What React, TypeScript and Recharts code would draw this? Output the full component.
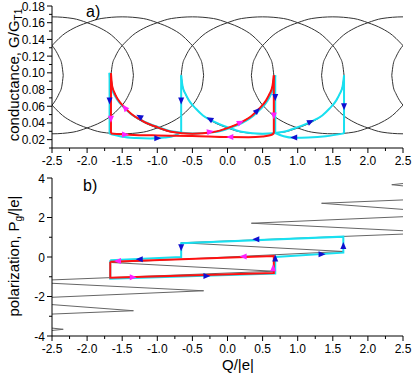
import React from 'react';
import { ComposedChart, Line, Scatter, XAxis, YAxis } from 'recharts';

const FONT = "'Liberation Sans', Arial, sans-serif";

// ---------- tick labels ----------
const qTicks = [-2.5, -2.25, -2, -1.75, -1.5, -1.25, -1, -0.75, -0.5, -0.25, 0, 0.25, 0.5, 0.75, 1, 1.25, 1.5, 1.75, 2, 2.25, 2.5];
const gTicks = [0.01, 0.02, 0.03, 0.04, 0.05, 0.06, 0.07, 0.08, 0.09, 0.1, 0.11, 0.12, 0.13, 0.14, 0.15, 0.16, 0.17, 0.18];
const pTicks = [-4, -3, -2, -1, 0, 1, 2, 3, 4];

// ---------- panel a: black conductance ellipses ----------
const ellipseCenters = [-3.5, -2.5, -1.5, -0.5, 0.5, 1.5, 2.5, 3.5];
const ellipseDq = [-1.16, -1.14, -1.1, -1.05, -0.95, -0.85, -0.7, -0.5, -0.3, 0, 0.3, 0.5, 0.7, 0.85, 0.95, 1.05, 1.1, 1.14, 1.16];
const ellipseUpperG = [0.097, 0.110, 0.119, 0.127, 0.137, 0.145, 0.153, 0.160, 0.165, 0.167, 0.165, 0.160, 0.153, 0.145, 0.137, 0.127, 0.119, 0.110, 0.097];
const ellipseLowerG = [0.097, 0.084, 0.075, 0.067, 0.057, 0.049, 0.041, 0.034, 0.029, 0.027, 0.029, 0.034, 0.041, 0.049, 0.057, 0.067, 0.075, 0.084, 0.097];

// ---------- panel a: red path ----------
const redArcG = [
  { x: -1.66, y: 0.0996 }, { x: -1.645, y: 0.085 }, { x: -1.61, y: 0.076 }, { x: -1.56, y: 0.068 },
  { x: -1.46, y: 0.058 }, { x: -1.36, y: 0.05 }, { x: -1.2, y: 0.042 }, { x: -1.0, y: 0.035 },
  { x: -0.8, y: 0.0295 }, { x: -0.5, y: 0.0272 }, { x: -0.2, y: 0.0292 }, { x: 0, y: 0.0338 },
  { x: 0.2, y: 0.041 }, { x: 0.35, y: 0.049 }, { x: 0.45, y: 0.057 }, { x: 0.55, y: 0.067 },
  { x: 0.6, y: 0.075 }, { x: 0.64, y: 0.084 }, { x: 0.66, y: 0.097 },
];
const redFlatG = [
  { x: -1.66, y: 0.0275 }, { x: -1.4, y: 0.026 }, { x: -1.0, y: 0.025 }, { x: -0.5, y: 0.0245 },
  { x: 0, y: 0.0232 }, { x: 0.3, y: 0.023 }, { x: 0.5, y: 0.0238 }, { x: 0.62, y: 0.0255 }, { x: 0.66, y: 0.0275 },
];
const redJumpsG = [
  { x: -1.66, y: 0.0275 }, { x: -1.66, y: 0.0996 }, { x: -0.5, y: null },
  { x: 0.66, y: 0.0275 }, { x: 0.66, y: 0.097 },
];

// ---------- panel a: cyan path ----------
const cyanArc1G = [
  { x: -1.68, y: 0.100 }, { x: -1.665, y: 0.086 }, { x: -1.63, y: 0.077 }, { x: -1.58, y: 0.069 },
  { x: -1.48, y: 0.059 }, { x: -1.38, y: 0.051 }, { x: -1.22, y: 0.043 }, { x: -1.02, y: 0.036 },
  { x: -0.8, y: 0.030 }, { x: -0.5, y: 0.0275 }, { x: -0.18, y: 0.029 }, { x: 0.02, y: 0.0335 },
  { x: 0.22, y: 0.0405 }, { x: 0.37, y: 0.0485 }, { x: 0.47, y: 0.0565 }, { x: 0.57, y: 0.0665 },
  { x: 0.62, y: 0.0745 }, { x: 0.66, y: 0.084 }, { x: 0.68, y: 0.097 },
];
const cyanArc2G = [
  { x: -0.66, y: 0.097 }, { x: -0.64, y: 0.084 }, { x: -0.6, y: 0.075 }, { x: -0.55, y: 0.067 },
  { x: -0.45, y: 0.057 }, { x: -0.35, y: 0.049 }, { x: -0.2, y: 0.042 }, { x: 0, y: 0.035 },
  { x: 0.2, y: 0.0295 }, { x: 0.5, y: 0.027 }, { x: 0.8, y: 0.0295 }, { x: 1.0, y: 0.035 },
  { x: 1.2, y: 0.042 }, { x: 1.35, y: 0.049 }, { x: 1.45, y: 0.057 }, { x: 1.55, y: 0.067 },
  { x: 1.6, y: 0.075 }, { x: 1.64, y: 0.084 }, { x: 1.66, y: 0.097 },
];
const cyanFlat1G = [
  { x: -1.68, y: 0.027 }, { x: -1.5, y: 0.0235 }, { x: -1.3, y: 0.022 }, { x: -1.1, y: 0.0215 },
  { x: -0.9, y: 0.0225 }, { x: -0.75, y: 0.025 }, { x: -0.66, y: 0.029 },
];
const cyanFlat2G = [
  { x: 0.68, y: 0.028 }, { x: 0.8, y: 0.024 }, { x: 0.95, y: 0.0222 }, { x: 1.15, y: 0.0225 },
  { x: 1.4, y: 0.024 }, { x: 1.66, y: 0.0275 },
];
const cyanJumpsG = [
  { x: -1.68, y: 0.027 }, { x: -1.68, y: 0.100 }, { x: -1.2, y: null },
  { x: -0.66, y: 0.029 }, { x: -0.66, y: 0.097 }, { x: 0, y: null },
  { x: 0.68, y: 0.028 }, { x: 0.68, y: 0.097 }, { x: 1.2, y: null },
  { x: 1.66, y: 0.0275 }, { x: 1.66, y: 0.097 },
];

// arrow heads: a = screen direction in degrees (0 right, 90 down)
const blueArrowsG = [
  { x: -1.68, y: 0.067, a: 90 }, { x: -1.25, y: 0.0475, a: -150 }, { x: -1.0, y: 0.0218, a: 0 },
  { x: -0.66, y: 0.067, a: 90 }, { x: -0.25, y: 0.0445, a: -150 }, { x: 0.42, y: 0.0545, a: -45 },
  { x: 0.68, y: 0.071, a: 90 }, { x: 0.95, y: 0.0225, a: 180 }, { x: 1.18, y: 0.0415, a: -25 },
  { x: 1.66, y: 0.06, a: 90 },
];
const magentaArrowsG = [
  { x: -1.66, y: 0.045, a: 90 }, { x: -1.46, y: 0.058, a: -130 }, { x: -1.46, y: 0.0262, a: 0 },
  { x: -0.25, y: 0.0295, a: -10 }, { x: 0.18, y: 0.0405, a: -25 }, { x: 0.04, y: 0.0232, a: 180 },
  { x: 0.66, y: 0.049, a: 90 },
];

// ---------- panel b: polarization ----------
// gray equilibrium curve; null entries break the line where it leaves the plot
const grayP = [
  { x: 2.5, y: 3.72 }, { x: 2.34, y: 3.66 }, { x: 2.5, y: 3.6 }, { x: 2.5, y: null },
  { x: 2.5, y: 2.89 }, { x: 1.34, y: 2.72 }, { x: 2.5, y: 2.41 }, { x: 2.5, y: null },
  { x: 2.5, y: 2.04 }, { x: 0.34, y: 1.71 }, { x: 2.5, y: 1.33 }, { x: 2.5, y: null },
  { x: 2.5, y: 1.16 }, { x: -0.66, y: 0.72 }, { x: 1.65, y: 0.28 }, { x: -1.65, y: -0.28 },
  { x: 0.66, y: -0.72 }, { x: -2.5, y: -1.16 }, { x: -2.5, y: null },
  { x: -2.5, y: -1.33 }, { x: -0.34, y: -1.71 }, { x: -2.5, y: -2.04 }, { x: -2.5, y: null },
  { x: -2.5, y: -2.41 }, { x: -1.34, y: -2.72 }, { x: -2.5, y: -2.89 }, { x: -2.5, y: null },
  { x: -2.5, y: -3.6 }, { x: -2.34, y: -3.66 }, { x: -2.5, y: -3.72 },
];
const cyanP = [
  { x: -1.67, y: -0.17 }, { x: -1.67, y: -1.1 }, { x: 0.68, y: -0.84 }, { x: 0.68, y: 0.0 },
  { x: 1.65, y: 0.22 }, { x: 1.65, y: 1.03 }, { x: -0.66, y: 0.7 }, { x: -0.66, y: 0.0 },
  { x: -1.67, y: -0.17 },
];
const redP = [
  { x: -1.67, y: -0.24 }, { x: -1.67, y: -1.05 }, { x: 0.66, y: -0.81 }, { x: 0.66, y: 0.05 },
  { x: -1.67, y: -0.24 },
];
const blueArrowsP = [
  { x: -0.66, y: 0.49, a: 90 }, { x: -1.25, y: -0.12, a: 180 }, { x: -0.3, y: -0.96, a: 0 },
  { x: 0.41, y: 0.9, a: 180 }, { x: 0.68, y: -0.07, a: -90 }, { x: 1.34, y: 0.14, a: 0 },
  { x: 1.65, y: 0.56, a: -90 },
];
const magentaArrowsP = [
  { x: -1.56, y: -0.2, a: 180 }, { x: -1.35, y: -1.03, a: 0 }, { x: 0.23, y: 0.02, a: 180 },
  { x: 0.65, y: -0.57, a: -90 },
];

function buildEllipseHalves(g: number[]) {
  const out: { x: number; y: number | null }[] = [];
  ellipseCenters.forEach((c) => {
    ellipseDq.forEach((d, i) => out.push({ x: c + d, y: g[i] }));
    out.push({ x: c + 1.2, y: null });
  });
  return out;
}
const ellipseUpper = buildEllipseHalves(ellipseUpperG);
const ellipseLower = buildEllipseHalves(ellipseLowerG);

const XTick = (props: any) => {
  const { x, y, payload } = props;
  const v = payload.value as number;
  const major = Math.abs(v * 2 - Math.round(v * 2)) < 1e-6;
  return (
    <g>
      <line x1={x} x2={x} y1={y} y2={y + (major ? 5 : 3)} stroke="#000" strokeWidth={1} />
      {major && (
        <text x={x} y={y + 17} textAnchor="middle" fontSize={12} fontFamily={FONT} fill="#000">
          {v.toFixed(1)}
        </text>
      )}
    </g>
  );
};

const makeYTick = (isMajor: (v: number) => boolean, fmt: (v: number) => string) => (props: any) => {
  const { x, y, payload } = props;
  const v = payload.value as number;
  const major = isMajor(v);
  return (
    <g>
      <line x1={x - (major ? 5 : 3)} x2={x} y1={y} y2={y} stroke="#000" strokeWidth={1} />
      {major && (
        <text x={x - 7} y={y + 4.5} textAnchor="end" fontSize={12} fontFamily={FONT} fill="#000">
          {fmt(v)}
        </text>
      )}
    </g>
  );
};
const GTick = makeYTick((v) => Math.round(v * 100) % 2 === 0, (v) => v.toFixed(2));
const PTick = makeYTick((v) => Math.round(v) % 2 === 0, (v) => String(v));

const arrowShape = (color: string) => (props: any) => {
  const { cx, cy, payload } = props;
  if (cx == null || cy == null) return <g />;
  return (
    <polygon
      points="4,0 -3,-3 -3,3"
      fill={color}
      transform={`translate(${cx},${cy}) rotate(${payload.a})`}
    />
  );
};

const RED = '#ff1010';
const CYAN = '#18e0f0';
const BLUE = '#1010d0';
const MAGENTA = '#ff20ff';

export default function App() {
  return (
    <div style={{ position: 'absolute', left: 0, top: 0, width: 415, height: 374, background: '#fff' }}>
      <div style={{ position: 'absolute', left: 0, top: 0 }}>
        <ComposedChart width={415} height={170} margin={{ top: 6, right: 12, bottom: 0, left: 0 }}>
          <XAxis
            dataKey="x"
            type="number"
            domain={[-2.5, 2.5]}
            allowDataOverflow
            ticks={qTicks}
            interval={0}
            tick={XTick}
            tickLine={false}
            tickSize={0}
            tickMargin={0}
            height={22}
            axisLine={{ stroke: '#000', strokeWidth: 1 }}
          />
          <YAxis
            dataKey="y"
            type="number"
            domain={[0.01, 0.18]}
            allowDataOverflow
            ticks={gTicks}
            interval={0}
            tick={GTick}
            tickLine={false}
            tickSize={0}
            tickMargin={0}
            width={52}
            axisLine={{ stroke: '#000', strokeWidth: 1 }}
          />
          <Line data={ellipseUpper} dataKey="y" type="monotone" stroke="#333" strokeWidth={1} dot={false} activeDot={false} isAnimationActive={false} />
          <Line data={ellipseLower} dataKey="y" type="monotone" stroke="#333" strokeWidth={1} dot={false} activeDot={false} isAnimationActive={false} />
          <Line data={cyanArc1G} dataKey="y" type="monotone" stroke={CYAN} strokeWidth={2} dot={false} activeDot={false} isAnimationActive={false} />
          <Line data={cyanArc2G} dataKey="y" type="monotone" stroke={CYAN} strokeWidth={2} dot={false} activeDot={false} isAnimationActive={false} />
          <Line data={cyanFlat1G} dataKey="y" type="monotone" stroke={CYAN} strokeWidth={2} dot={false} activeDot={false} isAnimationActive={false} />
          <Line data={cyanFlat2G} dataKey="y" type="monotone" stroke={CYAN} strokeWidth={2} dot={false} activeDot={false} isAnimationActive={false} />
          <Line data={cyanJumpsG} dataKey="y" type="linear" stroke={CYAN} strokeWidth={2} dot={false} activeDot={false} isAnimationActive={false} />
          <Line data={redArcG} dataKey="y" type="monotone" stroke={RED} strokeWidth={2} dot={false} activeDot={false} isAnimationActive={false} />
          <Line data={redFlatG} dataKey="y" type="monotone" stroke={RED} strokeWidth={2} dot={false} activeDot={false} isAnimationActive={false} />
          <Line data={redJumpsG} dataKey="y" type="linear" stroke={RED} strokeWidth={2} dot={false} activeDot={false} isAnimationActive={false} />
          <Scatter data={blueArrowsG} dataKey="y" shape={arrowShape(BLUE)} isAnimationActive={false} />
          <Scatter data={magentaArrowsG} dataKey="y" shape={arrowShape(MAGENTA)} isAnimationActive={false} />
        </ComposedChart>
      </div>
      <div style={{ position: 'absolute', left: 0, top: 170 }}>
        <ComposedChart width={415} height={204} margin={{ top: 8, right: 12, bottom: 0, left: 0 }}>
          <XAxis
            dataKey="x"
            type="number"
            domain={[-2.5, 2.5]}
            allowDataOverflow
            ticks={qTicks}
            interval={0}
            tick={XTick}
            tickLine={false}
            tickSize={0}
            tickMargin={0}
            height={38}
            axisLine={{ stroke: '#000', strokeWidth: 1 }}
          />
          <YAxis
            dataKey="y"
            type="number"
            domain={[-4, 4]}
            allowDataOverflow
            ticks={pTicks}
            interval={0}
            tick={PTick}
            tickLine={false}
            tickSize={0}
            tickMargin={0}
            width={52}
            axisLine={{ stroke: '#000', strokeWidth: 1 }}
          />
          <Line data={grayP} dataKey="y" type="linear" stroke="#666" strokeWidth={1} dot={false} activeDot={false} isAnimationActive={false} />
          <Line data={cyanP} dataKey="y" type="linear" stroke={CYAN} strokeWidth={2} dot={false} activeDot={false} isAnimationActive={false} />
          <Line data={redP} dataKey="y" type="linear" stroke={RED} strokeWidth={2} dot={false} activeDot={false} isAnimationActive={false} />
          <Scatter data={blueArrowsP} dataKey="y" shape={arrowShape(BLUE)} isAnimationActive={false} />
          <Scatter data={magentaArrowsP} dataKey="y" shape={arrowShape(MAGENTA)} isAnimationActive={false} />
        </ComposedChart>
      </div>
      <svg width={415} height={374} style={{ position: 'absolute', left: 0, top: 0, pointerEvents: 'none' }}>
        <text x={86} y={17} fontSize={16} fontFamily={FONT} fill="#000">a)</text>
        <text x={83} y={191} fontSize={16} fontFamily={FONT} fill="#000">b)</text>
        <text transform="translate(19,75) rotate(-90)" textAnchor="middle" fontSize={15} fontFamily={FONT} fill="#000">
          conductance, G/G<tspan fontSize={10} dy={3}>T1</tspan>
        </text>
        <text transform="translate(19,256) rotate(-90)" textAnchor="middle" fontSize={15} fontFamily={FONT} fill="#000">
          polarization, P<tspan fontSize={10} dy={3}>g</tspan><tspan dy={-3}>/|e|</tspan>
        </text>
        <text x={238} y={370} textAnchor="middle" fontSize={15} fontFamily={FONT} fill="#000">Q/|e|</text>
      </svg>
    </div>
  );
}
